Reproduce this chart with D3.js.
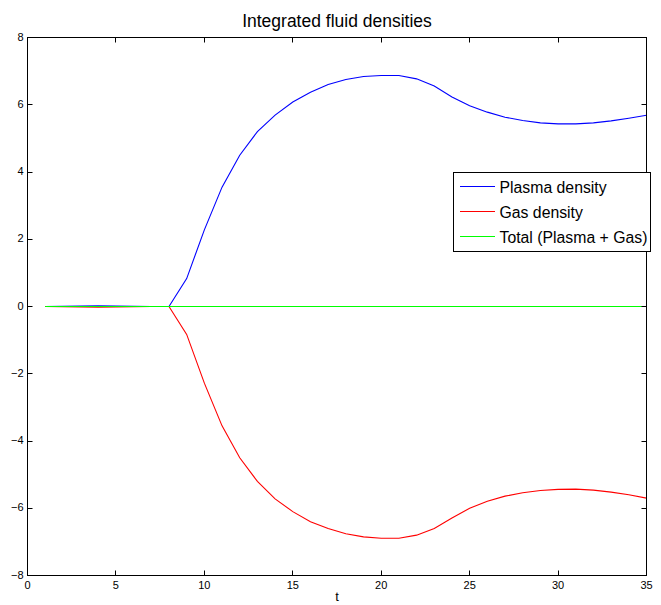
<!DOCTYPE html>
<html><head><meta charset="utf-8">
<script src="https://cdn.jsdelivr.net/npm/d3@7"></script>
<style>body{margin:0;background:#fff}svg{display:block}text{font-family:"Liberation Sans",Arial,sans-serif}</style>
</head><body>
<script>
const t = d3.range(1, 36);
const plasma = [0,0.005,0.012,0.018,0.012,0.006,0.002,0,0.83,2.28,3.55,4.5,5.2,5.69,6.08,6.37,6.6,6.75,6.84,6.87,6.87,6.77,6.56,6.23,5.97,5.78,5.63,5.53,5.46,5.43,5.43,5.46,5.52,5.6,5.69];
const gas = [0,-0.005,-0.012,-0.018,-0.012,-0.006,-0.002,0,-0.83,-2.28,-3.55,-4.5,-5.2,-5.72,-6.1,-6.4,-6.6,-6.76,-6.85,-6.89,-6.89,-6.8,-6.6,-6.29,-6.0,-5.79,-5.64,-5.54,-5.47,-5.44,-5.43,-5.46,-5.52,-5.6,-5.7];
const total = [0,0,0,0,0,0,0,0,0,0,0,0,0,0,0,0,0,0,0,0,0,0,0,0,0,0,0,0,0,0,0,0,0,0,0];
const xTicks = [0,5,10,15,20,25,30,35];
const yTicks = [-8,-6,-4,-2,0,2,4,6,8];
const seriesNames = ["Plasma density","Gas density","Total (Plasma + Gas)"];
const seriesColors = ["#0000ff","#ff0000","#00ff00"];
const title = "Integrated fluid densities";
const xLabel = "t";

const W = 661, H = 605;
const L = 27.5, R = 646.5, T = 37.5, B = 575.5;
const svg = d3.select("body").append("svg").attr("width", W).attr("height", H);
const x = d3.scaleLinear().domain([0,35]).range([L,R]);
const y = d3.scaleLinear().domain([-8,8]).range([B,T]);

const line = d3.line().x((d,i)=>x(t[i])).y(d=>y(d));
[plasma,gas,total].forEach((s,k)=>{
  svg.append("path").datum(s).attr("d",line).attr("fill","none")
    .attr("stroke",seriesColors[k]).attr("stroke-width",1.1);
});

// frame
svg.append("rect").attr("x",L).attr("y",T).attr("width",R-L).attr("height",B-T)
  .attr("fill","none").attr("stroke","#000").attr("stroke-width",1);

const fmt = d => d < 0 ? "\u2212" + Math.abs(d) : String(d);
const tl = 5;
xTicks.forEach(v => {
  const px = Math.round(x(v) - 0.5) + 0.5;
  svg.append("line").attr("x1",px).attr("x2",px).attr("y1",B).attr("y2",B-tl).attr("stroke","#000");
  svg.append("line").attr("x1",px).attr("x2",px).attr("y1",T).attr("y2",T+tl).attr("stroke","#000");
  svg.append("text").attr("x",x(v)).attr("y",B+13).attr("text-anchor","middle")
    .attr("font-size",11).text(fmt(v));
});
yTicks.forEach(v => {
  const py = Math.round(y(v) - 0.5) + 0.5;
  svg.append("line").attr("x1",L).attr("x2",L+tl).attr("y1",py).attr("y2",py).attr("stroke","#000");
  svg.append("line").attr("x1",R).attr("x2",R-tl).attr("y1",py).attr("y2",py).attr("stroke","#000");
  svg.append("text").attr("x",L-4).attr("y",y(v)+3).attr("text-anchor","end")
    .attr("font-size",11).text(fmt(v));
});

svg.append("text").attr("x",(L+R)/2).attr("y",27).attr("text-anchor","middle")
  .attr("font-size",17.5).text(title);
svg.append("text").attr("x",(L+R)/2).attr("y",601).attr("text-anchor","middle")
  .attr("font-size",13).text(xLabel);

// legend
const lg = svg.append("g");
lg.append("rect").attr("x",453.5).attr("y",172.5).attr("width",197).attr("height",79)
  .attr("fill","#fff").attr("stroke","#000");
seriesNames.forEach((n,k)=>{
  const yy = 186.5 + k*25;
  lg.append("line").attr("x1",460).attr("x2",495).attr("y1",yy).attr("y2",yy)
    .attr("stroke",seriesColors[k]).attr("stroke-width",1.1);
  lg.append("text").attr("x",499.5).attr("y",yy+6).attr("font-size",15.8).text(n);
});
</script>
</body></html>
